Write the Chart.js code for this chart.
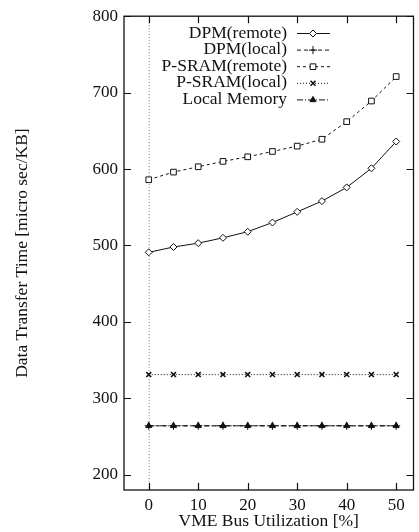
<!DOCTYPE html>
<html>
<head>
<meta charset="utf-8">
<title>Data Transfer Time vs VME Bus Utilization</title>
<script src="https://cdn.jsdelivr.net/npm/chart.js@4.4.1/dist/chart.umd.min.js"></script>
<style>
  html, body { margin: 0; padding: 0; background: #fff; }
  #wrap { width: 419px; height: 532px; position: relative; }
</style>
</head>
<body>
<div id="wrap"><canvas id="chart"></canvas></div>
<script>
// ── Data ─────────────────────────────────────────────────────────────────────
const utilization = [0, 5, 10, 15, 20, 25, 30, 35, 40, 45, 50];
const dpmRemote   = [491, 498, 503, 510, 518, 530, 544, 558, 576, 601, 636];
const dpmLocal    = [264, 264, 264, 264, 264, 264, 264, 264, 264, 264, 264];
const psramRemote = [586, 596, 603, 610, 616, 623, 630, 639, 662, 689, 721];
const psramLocal  = [331, 331, 331, 331, 331, 331, 331, 331, 331, 331, 331];
const localMemory = [264, 264, 264, 264, 264, 264, 264, 264, 264, 264, 264];

const xTicks = [0, 10, 20, 30, 40, 50];
const yTicks = [200, 300, 400, 500, 600, 700, 800];

const FONT = "'Liberation Serif', 'DejaVu Serif', serif";

function pts(vals) {
    return utilization.map((u, i) => ({ x: u, y: vals[i] }));
}

function series(label, vals, style, dash, extra) {
    return Object.assign({
        label,
        data: pts(vals),
        borderColor: '#111',
        borderWidth: 1,
        borderDash: dash,
        pointStyle: style,
        pointRadius: 3.5,
        pointBorderColor: '#111',
        pointBorderWidth: 1,
        pointBackgroundColor: '#fff',
        tension: 0,
        fill: false,
    }, extra || {});
}

// ── Gnuplot-like frame, inward ticks, zero line and legend ───────────────────
const gnuplotLook = {
    id: 'gnuplotLook',
    beforeDatasetsDraw(chart) {
        const { ctx, chartArea: a, scales } = chart;
        const x0 = scales.x.getPixelForValue(0);
        ctx.save();
        ctx.strokeStyle = '#777';
        ctx.lineWidth = 1;
        ctx.setLineDash([1, 2]);
        ctx.beginPath();
        ctx.moveTo(x0 + 0.5, a.top);
        ctx.lineTo(x0 + 0.5, a.bottom);
        ctx.stroke();
        ctx.restore();
    },
    afterDraw(chart) {
        const { ctx, chartArea: a, scales, data } = chart;
        ctx.save();
        ctx.strokeStyle = '#111';
        ctx.lineWidth = 1.3;
        ctx.setLineDash([]);
        ctx.strokeRect(a.left, a.top, a.right - a.left, a.bottom - a.top);

        const tl = 7;
        ctx.lineWidth = 1.2;
        ctx.beginPath();
        xTicks.forEach(v => {
            const px = Math.round(scales.x.getPixelForValue(v)) + 0.5;
            ctx.moveTo(px, a.bottom); ctx.lineTo(px, a.bottom - tl);
            ctx.moveTo(px, a.top);    ctx.lineTo(px, a.top + tl);
        });
        yTicks.forEach(v => {
            const py = Math.round(scales.y.getPixelForValue(v)) + 0.5;
            ctx.moveTo(a.left, py);  ctx.lineTo(a.left + tl, py);
            ctx.moveTo(a.right, py); ctx.lineTo(a.right - tl, py);
        });
        ctx.stroke();

        // legend
        ctx.font = '17.5px ' + FONT;
        ctx.fillStyle = '#111';
        ctx.textAlign = 'right';
        ctx.textBaseline = 'middle';
        data.datasets.forEach((ds, i) => {
            const y = 33 + i * 16.6;
            ctx.fillText(ds.label, 287, y);
            ctx.save();
            ctx.strokeStyle = '#111';
            ctx.lineWidth = 1;
            ctx.setLineDash(ds.borderDash || []);
            ctx.beginPath();
            ctx.moveTo(297, y + 0.5);
            ctx.lineTo(330, y + 0.5);
            ctx.stroke();
            ctx.setLineDash([]);
            ctx.fillStyle = ds.pointBackgroundColor;
            ctx.strokeStyle = ds.pointBorderColor;
            ctx.lineWidth = ds.pointBorderWidth;
            Chart.helpers.drawPoint(ctx, {
                pointStyle: ds.pointStyle,
                radius: ds.pointRadius,
                rotation: 0,
                borderWidth: ds.pointBorderWidth,
            }, 313, y + 0.5);
            ctx.restore();
        });
        ctx.restore();
    }
};

new Chart(document.getElementById('chart').getContext('2d'), {
    type: 'line',
    data: {
        datasets: [
            series('DPM(remote)', dpmRemote, 'rectRot', []),
            series('DPM(local)', dpmLocal, 'cross', [4, 3], { pointRadius: 4 }),
            series('P-SRAM(remote)', psramRemote, 'rect', [3, 3], { pointRadius: 4 }),
            series('P-SRAM(local)', psramLocal, 'crossRot', [1, 2], { pointBorderWidth: 1.5 }),
            series('Local Memory', localMemory, 'triangle', [6, 2, 1, 2], { pointBackgroundColor: '#111' }),
        ]
    },
    options: {
        responsive: true,
        maintainAspectRatio: false,
        devicePixelRatio: 1,
        animation: false,
        layout: { padding: { top: 15, right: 0, left: 0, bottom: 0 } },
        plugins: { legend: { display: false }, tooltip: { enabled: false } },
        scales: {
            x: {
                type: 'linear',
                min: -5,
                max: 53.5,
                grid: { display: false, drawTicks: false },
                border: { display: false },
                afterBuildTicks: s => { s.ticks = xTicks.map(v => ({ value: v })); },
                afterFit: s => { s.height = 42; },
                ticks: { color: '#111', font: { family: FONT, size: 17 }, padding: 5, maxRotation: 0 },
                title: {
                    display: true,
                    text: 'VME Bus Utilization [%]',
                    color: '#111',
                    font: { family: FONT, size: 17.5 },
                    padding: { top: 0, bottom: 0 },
                },
            },
            y: {
                type: 'linear',
                min: 180,
                max: 800,
                grid: { display: false, drawTicks: false },
                border: { display: false },
                afterBuildTicks: s => { s.ticks = yTicks.map(v => ({ value: v })); },
                afterFit: s => { s.width = 124; },
                ticks: { color: '#111', font: { family: FONT, size: 17 }, padding: 6 },
                title: {
                    display: true,
                    text: 'Data Transfer Time [micro sec/KB]',
                    color: '#111',
                    font: { family: FONT, size: 17.5 },
                    padding: { top: 12, bottom: 0 },
                },
            },
        },
    },
    plugins: [gnuplotLook],
});
</script>
</body>
</html>
